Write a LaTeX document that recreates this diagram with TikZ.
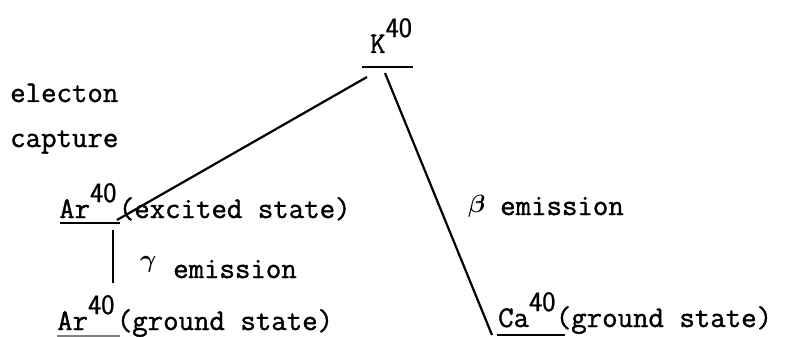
\documentclass[tikz,border=0pt]{standalone}
\usepackage{fontspec}
\setmonofont[FakeBold=1.2]{Latin Modern Mono}
\newfontfamily\supfont[FakeBold=0.8]{Latin Modern Sans}
\newcommand{\tyfont}{\fontsize{30}{36}\selectfont\ttfamily}
\newcommand{\iso}[1]{#1\raisebox{16pt}{\fontsize{28}{30}\selectfont\supfont 40}}
\tikzset{
	txt/.style={inner sep=0pt, anchor=base west, font=\tyfont},
	sym/.style={inner sep=0pt, anchor=base west, font=\fontsize{#1}{40}\selectfont\boldmath},
	decay/.style={line width=2.2pt},
	bar/.style={line width=1.6pt}
}
\begin{document}
	\begin{tikzpicture}[x=1pt, y=-1pt]
		\useasboundingbox (0,0) rectangle (790,337);
		\node[txt] (k) at (370,53) {\iso{K}};
		\node[txt] (ec1) at (10,102) {electon};
		\node[txt] (ec2) at (10,147) {capture};
		\node[txt] (arx) at (59,218) {\iso{Ar}};
		\node[txt] (arxt) at ([xshift=2pt]arx.base east) {(excited state)};
		\node[sym=40] (g) at (140,267) {$\gamma$};
		\node[txt] (gt) at (173,278) {emission};
		\node[txt] (arg) at (57,330) {\iso{Ar}};
		\node[txt] (argt) at ([xshift=2pt]arg.base east) {(ground state)};
		\node[sym=35] (b) at (468,212) {$\beta$};
		\node[txt] (bt) at (500,215) {emission};
		\node[txt] (ca) at (498,327) {\iso{Ca}};
		\node[txt] (cat) at (ca.base east) {(ground state)};

		% levels
		\draw[bar] ([shift={(-8,14)}]k.base west) -- ([shift={(43,14)}]k.base west);
		\draw[bar] ([shift={(1,5)}]arx.base west) -- ([shift={(61,5)}]arx.base west);
		\draw[bar] ([shift={(-1,8)}]ca.base west) -- ([shift={(67,8)}]ca.base west);
		\draw[line width=1.2pt, gray] ([shift={(0,6)}]arg.base west) -- ([shift={(63,6)}]arg.base west);

		% decays
		\draw[decay] ([shift={(-3,24)}]k.base west) -- ([shift={(58,2)}]arx.base west);
		\draw[decay] ([shift={(15,20)}]k.base west) -- ([shift={(-6,8)}]ca.base west);
		\draw[decay] ([shift={(54,12)}]arx.base west) -- ([shift={(56,-47)}]arg.base west);
	\end{tikzpicture}
\end{document}
